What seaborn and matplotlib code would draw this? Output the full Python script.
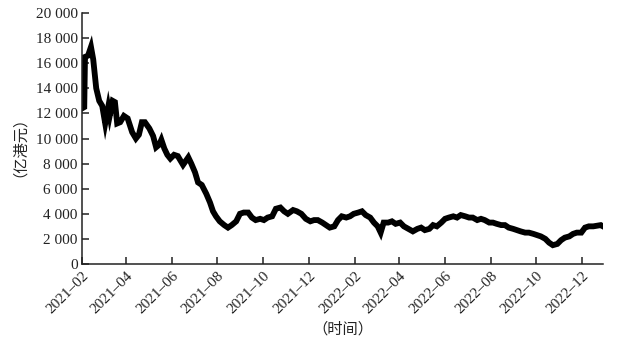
import matplotlib
matplotlib.use("Agg")
import matplotlib.pyplot as plt
import matplotlib.ticker as mticker
import pandas as pd
import seaborn as sns

dates = [
    "2021-02-01", "2021-02-04", "2021-02-05", "2021-02-09", "2021-02-13", "2021-02-16",
    "2021-02-20", "2021-02-24", "2021-02-28", "2021-03-04", "2021-03-08", "2021-03-10",
    "2021-03-14", "2021-03-17", "2021-03-20", "2021-03-24", "2021-03-29", "2021-04-03",
    "2021-04-09", "2021-04-14", "2021-04-18", "2021-04-22", "2021-04-26", "2021-05-02",
    "2021-05-07", "2021-05-11", "2021-05-15", "2021-05-18", "2021-05-22", "2021-05-26",
    "2021-05-30", "2021-06-04", "2021-06-09", "2021-06-16", "2021-06-23", "2021-06-27",
    "2021-07-02", "2021-07-06", "2021-07-11", "2021-07-17", "2021-07-22", "2021-07-26",
    "2021-07-30", "2021-08-04", "2021-08-10", "2021-08-15", "2021-08-20", "2021-08-26",
    "2021-08-31", "2021-09-05", "2021-09-11", "2021-09-16", "2021-09-21", "2021-09-27",
    "2021-10-02", "2021-10-07", "2021-10-13", "2021-10-18", "2021-10-24", "2021-10-29",
    "2021-11-03", "2021-11-10", "2021-11-15", "2021-11-21", "2021-11-27", "2021-12-03",
    "2021-12-08", "2021-12-13", "2021-12-19", "2021-12-24", "2021-12-29", "2022-01-04",
    "2022-01-09", "2022-01-14", "2022-01-20", "2022-01-25", "2022-01-30", "2022-02-05",
    "2022-02-10", "2022-02-15", "2022-02-21", "2022-02-26", "2022-03-03", "2022-03-07",
    "2022-03-11", "2022-03-17", "2022-03-22", "2022-03-27", "2022-04-02", "2022-04-07",
    "2022-04-13", "2022-04-19", "2022-04-25", "2022-04-30", "2022-05-05", "2022-05-11",
    "2022-05-16", "2022-05-21", "2022-05-27", "2022-06-01", "2022-06-06", "2022-06-12",
    "2022-06-17", "2022-06-22", "2022-06-28", "2022-07-03", "2022-07-08", "2022-07-14",
    "2022-07-19", "2022-07-24", "2022-07-30", "2022-08-04", "2022-08-09", "2022-08-15",
    "2022-08-20", "2022-08-25", "2022-08-31", "2022-09-05", "2022-09-10", "2022-09-16",
    "2022-09-21", "2022-09-27", "2022-10-02", "2022-10-07", "2022-10-13", "2022-10-18",
    "2022-10-23", "2022-10-29", "2022-11-03", "2022-11-08", "2022-11-14", "2022-11-19",
    "2022-11-24", "2022-11-30", "2022-12-05", "2022-12-10", "2022-12-16", "2022-12-21",
    "2022-12-26", "2022-12-29",
]
values = [
    12400, 12500, 16500, 16600, 17300, 16300,
    14000, 13000, 12600, 11200, 12500, 11800,
    13000, 12900, 11200, 11300, 11800, 11600,
    10500, 10000, 10300, 11300, 11300, 10800,
    10200, 9300, 9500, 9900, 9200, 8700,
    8400, 8700, 8600, 7900, 8500, 8000,
    7300, 6500, 6300, 5600, 4900, 4200,
    3800, 3400, 3100, 2900, 3100, 3400,
    4000, 4100, 4100, 3700, 3500, 3600,
    3500, 3700, 3800, 4400, 4500, 4200,
    4000, 4300, 4200, 4000, 3600, 3400,
    3500, 3500, 3300, 3100, 2900, 3000,
    3500, 3800, 3700, 3800, 4000, 4100,
    4200, 3900, 3700, 3300, 3000, 2500,
    3300, 3300, 3400, 3200, 3300, 3000,
    2800, 2600, 2800, 2900, 2700, 2800,
    3100, 3000, 3300, 3600, 3700, 3800,
    3700, 3900, 3800, 3700, 3700, 3500,
    3600, 3500, 3300, 3300, 3200, 3100,
    3100, 2900, 2800, 2700, 2600, 2500,
    2500, 2400, 2300, 2200, 2000, 1700,
    1500, 1600, 1900, 2100, 2200, 2400,
    2500, 2500, 2900, 3000, 3000, 3050,
    3100, 3000,
]
y_ticks = list(range(0, 20001, 2000))
x_ticks = ["2021-02", "2021-04", "2021-06", "2021-08", "2021-10", "2021-12",
           "2022-02", "2022-04", "2022-06", "2022-08", "2022-10", "2022-12"]
y_label = "（亿港元）"
x_label = "（时间）"

df = pd.DataFrame({"date": pd.to_datetime(dates), "value": values})

sns.set_style("ticks")
plt.rcParams["font.family"] = ["Liberation Serif", "Noto Sans CJK SC"]

fig = plt.figure(figsize=(6.38, 3.44), dpi=100)
ax = fig.add_axes([82 / 638, 1 - 264 / 344, (603 - 82) / 638, (264 - 13) / 344])

sns.lineplot(data=df, x="date", y="value", ax=ax, color="black", linewidth=4.2,
             solid_joinstyle="miter", solid_capstyle="projecting")

ax.set_xlim(pd.Timestamp("2021-02-01"), pd.Timestamp("2022-12-29"))
ax.set_ylim(0, 20000)

ax.set_yticks(y_ticks)
ax.yaxis.set_major_formatter(mticker.FuncFormatter(lambda v, p: f"{int(v):,}".replace(",", " ")))

xt = [pd.Timestamp(s + "-01") for s in x_ticks]
ax.set_xticks(xt)
ax.set_xticklabels([s.replace("-", "–") for s in x_ticks], rotation=45, ha="right",
                   va="top", rotation_mode="anchor", fontsize=11)

for side in ["top", "right"]:
    ax.spines[side].set_visible(False)
for side in ["left", "bottom"]:
    ax.spines[side].set_linewidth(1.1)
    ax.spines[side].set_color("#222222")

ax.tick_params(axis="both", direction="in", length=5, width=1.1, color="#222222",
               labelsize=11, labelcolor="#222222")
ax.tick_params(axis="x", pad=4)
ax.tick_params(axis="y", pad=3)

ax.set_xlabel(x_label, fontsize=11, family=["Noto Sans CJK SC"], color="#222222")
ax.set_ylabel(y_label, fontsize=11, family=["Noto Sans CJK SC"], color="#222222")
ax.xaxis.set_label_coords(0.5, -0.225)
ax.yaxis.set_label_coords(-0.119, 0.5)

fig.savefig("out.png", dpi=100, facecolor="white")
